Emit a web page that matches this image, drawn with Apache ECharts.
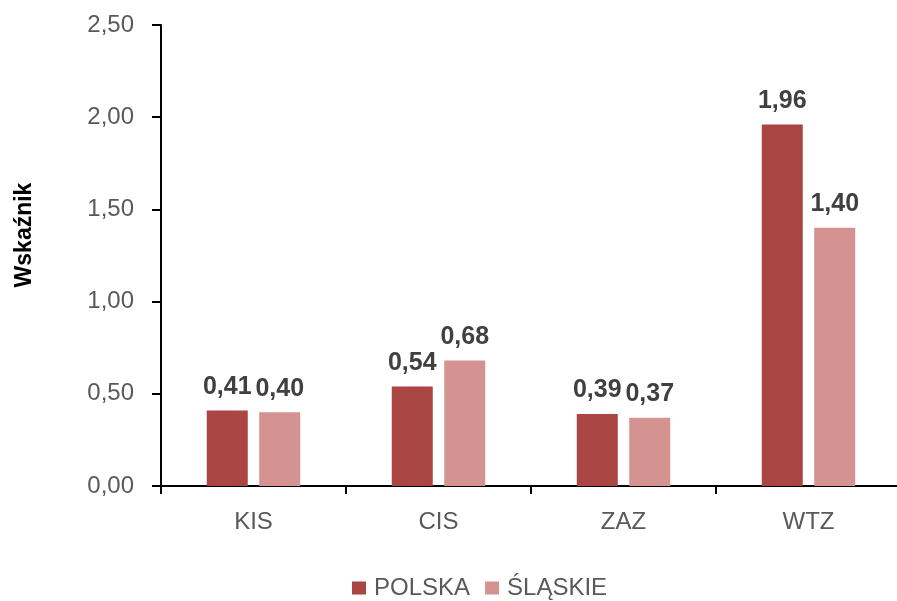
<!DOCTYPE html>
<html><head><meta charset="utf-8">
<script src="https://cdn.jsdelivr.net/npm/echarts@6/dist/echarts.min.js"></script>
<style>html,body{margin:0;padding:0;background:#fff}#c{width:897px;height:601px}</style>
</head><body><div id="c"></div>
<script>
var categories = ['KIS', 'CIS', 'ZAZ', 'WTZ'];
var seriesNames = ['POLSKA', 'ŚLĄSKIE'];
var polska = [0.41, 0.54, 0.39, 1.96];
var slaskie = [0.40, 0.68, 0.37, 1.40];
var yTitle = 'Wskaźnik';

var FONT = '"Liberation Sans", Arial, sans-serif';
function fmt(v) { return v.toFixed(2).replace('.', ','); }
var chart = echarts.init(document.getElementById('c'));
var labelStyle = {
  show: true, position: 'top', distance: 11,
  fontFamily: FONT, fontWeight: 'bold', fontSize: 25, color: '#404040',
  formatter: function (p) { return fmt(p.value); }
};
chart.setOption({
  animation: false,
  textStyle: { fontFamily: FONT },
  grid: { left: 161, width: 740, top: 25, bottom: 115, containLabel: false, outerBoundsMode: 'none' },
  legend: {
    top: 576, left: 352, padding: 0, itemWidth: 14, itemHeight: 13, itemGap: 15,
    icon: 'rect',
    textStyle: { fontFamily: FONT, fontSize: 24, color: '#595959', padding: [0, 0, 0, 3] },
    data: seriesNames
  },
  graphic: [{
    type: 'text',
    rotation: Math.PI / 2,
    x: 25, y: 235,
    style: { text: yTitle, fontFamily: FONT, fontWeight: 'bold', fontSize: 23, fill: '#000', align: 'center', verticalAlign: 'middle' }
  }],
  xAxis: {
    type: 'category', data: categories,
    axisLine: { lineStyle: { color: '#000', width: 2 } },
    axisTick: { show: true, length: 8, lineStyle: { color: '#000', width: 2 } },
    axisLabel: { margin: 24, fontFamily: FONT, fontSize: 24, color: '#595959' }
  },
  yAxis: {
    type: 'value', min: 0, max: 2.5, interval: 0.5,
    splitLine: { show: false },
    axisLine: { show: true, lineStyle: { color: '#000', width: 2 } },
    axisTick: { show: true, length: 9, lineStyle: { color: '#000', width: 2 } },
    axisLabel: { margin: 27, fontFamily: FONT, fontSize: 24, color: '#595959', formatter: fmt }
  },
  series: [
    { name: seriesNames[0], type: 'bar', data: polska, barWidth: 41, barGap: '28%',
      itemStyle: { color: '#A94543' }, label: labelStyle },
    { name: seriesNames[1], type: 'bar', data: slaskie, barWidth: 41,
      itemStyle: { color: '#D49291' }, label: labelStyle }
  ]
});
</script></body></html>
